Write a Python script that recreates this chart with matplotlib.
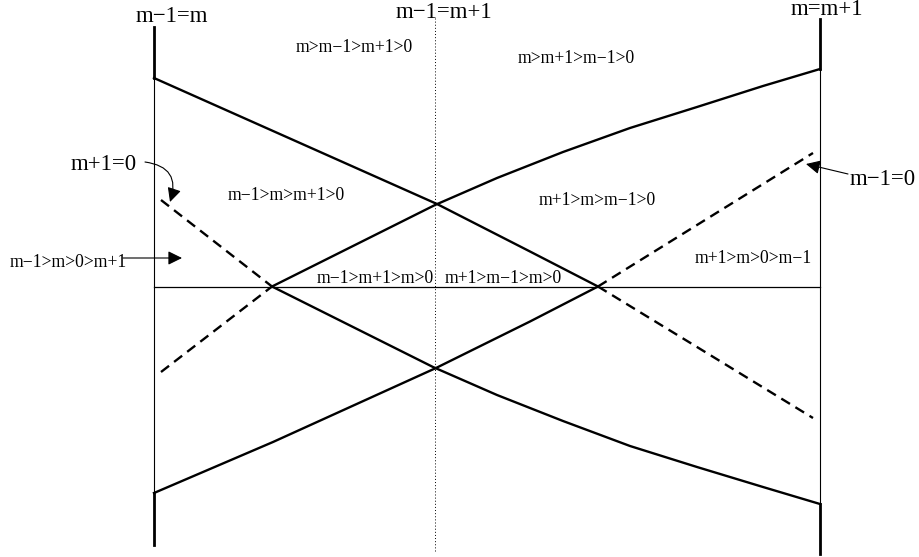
import matplotlib
matplotlib.use("Agg")
import matplotlib.pyplot as plt

# coordinates: x to the right, y measured up from the zero line
# curve A: top left, falls to the right (solid, then dashed)
a_solid_x = [154, 300, 437, 530, 598]
a_solid_y = [208.5, 143.5, 82.5, 35, 0]
a_dash_x = [598, 697, 813]
a_dash_y = [0, -60.5, -131.5]

# curve D: bottom left, rises to the right (solid, then dashed)
d_solid_x = [154, 273, 436, 530, 598]
d_solid_y = [-206.5, -155.5, -81.5, -35, 0]
d_dash_x = [598, 697, 813]
d_dash_y = [0, 61.5, 133.5]

# curve B: dashed from lower left, then solid up to the right edge
b_dash_x = [161, 272]
b_dash_y = [-85.5, 0]
b_solid_x = [272, 435, 497, 563, 630, 697, 763, 820]
b_solid_y = [0, 81.5, 108.5, 134.5, 158.5, 179.5, 200.5, 217.5]

# curve C: dashed from upper left, then solid down to the right edge
c_dash_x = [161, 272]
c_dash_y = [86.5, 0]
c_solid_x = [272, 433, 497, 563, 630, 697, 763, 820]
c_solid_y = [0, -80.5, -108.5, -134.5, -159.5, -180.5, -200.5, -217.5]

x_left, x_right, x_mid = 154, 820, 435

region_labels = ["m>m\u22121>m+1>0", "m>m+1>m\u22121>0", "m\u22121>m>m+1>0",
                 "m+1>m>m\u22121>0", "m\u22121>m>0>m+1", "m+1>m>0>m\u22121",
                 "m\u22121>m+1>m>0", "m+1>m\u22121>m>0"]
region_x = [354, 576, 286, 597, 68, 753, 375, 503]
region_y = [234.5, 223.5, 86.5, 81.5, 19.5, 23.5, 3.5, 3.5]

top_labels = ["m\u22121=m", "m\u22121=m+1", "m=m+1"]
top_x = [172, 444, 827]
top_y = [264.5, 268.5, 271.5]

fig = plt.figure(figsize=(9.2, 5.57), dpi=100)
ax = fig.add_axes([0, 0, 1, 1])
ax.set_xlim(0, 920)
ax.set_ylim(-270.5, 286.5)
ax.axis("off")

serif = "Liberation Serif"
lw = 1.7
dash = (0, (4.3, 2.7))

# frame: sides, zero line, dotted middle
ax.plot([x_left, x_left], [208.5, -206.5], color="black", lw=0.8)
ax.plot([x_left, x_left], [259.5, 208.5], color="black", lw=2)
ax.plot([x_left, x_left], [-206.5, -258.5], color="black", lw=2)
ax.plot([x_right, x_right], [217.5, -217.5], color="black", lw=0.8)
ax.plot([x_right, x_right], [267.5, 217.5], color="black", lw=2)
ax.plot([x_right, x_right], [-217.5, -267.5], color="black", lw=2)
ax.plot([x_left, x_right], [0, 0], color="black", lw=0.9)
ax.plot([x_mid, x_mid], [268.5, -265.5], color="black", lw=0.7, linestyle=(0, (1, 2.2)))

# curves
for xs, ys in [(a_solid_x, a_solid_y), (d_solid_x, d_solid_y),
               (b_solid_x, b_solid_y), (c_solid_x, c_solid_y)]:
    ax.plot(xs, ys, color="black", lw=lw, solid_joinstyle="round")
for xs, ys in [(a_dash_x, a_dash_y), (d_dash_x, d_dash_y),
               (b_dash_x, b_dash_y), (c_dash_x, c_dash_y)]:
    ax.plot(xs, ys, color="black", lw=lw, linestyle=dash)

# labels
for txt, x, y in zip(top_labels, top_x, top_y):
    ax.text(x, y, txt, ha="center", va="baseline", fontsize=16.5, family=serif)
for txt, x, y in zip(region_labels, region_x, region_y):
    ax.text(x, y, txt, ha="center", va="baseline", fontsize=12.7, family=serif)

ax.text(104, 116.5, "m+1=0", ha="center", va="baseline", fontsize=16.5, family=serif)
ax.text(850, 101.5, "m\u22121=0", ha="left", va="baseline", fontsize=16.5, family=serif)

# arrows
head = "-|>,head_length=0.85,head_width=0.42"
ax.annotate("", xy=(170, 84.5), xytext=(145, 124.5),
            arrowprops=dict(arrowstyle=head, mutation_scale=10, color="black", lw=0.8,
                            shrinkA=0, shrinkB=0, connectionstyle="arc3,rad=-0.6"))
ax.annotate("", xy=(182, 28.5), xytext=(123, 28.5),
            arrowprops=dict(arrowstyle=head, mutation_scale=10, color="black", lw=0.8,
                            shrinkA=0, shrinkB=0))
ax.annotate("", xy=(806, 122.5), xytext=(848, 112.5),
            arrowprops=dict(arrowstyle=head, mutation_scale=10, color="black", lw=0.8,
                            shrinkA=0, shrinkB=0))

fig.savefig("out.png", dpi=100)
